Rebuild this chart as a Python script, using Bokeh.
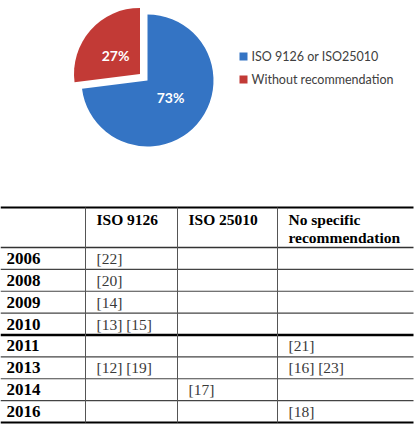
import math
from bokeh.plotting import figure
from bokeh.models import Range1d
from bokeh.core.properties import value
from bokeh.embed import file_html
from bokeh.resources import INLINE

# ---------------- data ----------------
pie_labels = ["ISO 9126 or ISO25010", "Without recommendation"]
pie_values = [73, 27]
pie_colors = ["#3474c4", "#c23a36"]

header_cols = ["ISO 9126", "ISO 25010", "No specific\nrecommendation"]
years = ["2006", "2008", "2009", "2010", "2011", "2013", "2014", "2016"]
iso9126 = ["[22]", "[20]", "[14]", "[13] [15]", "", "[12] [19]", "", ""]
iso25010 = ["", "", "", "", "", "", "[17]", ""]
no_rec = ["", "", "", "", "[21]", "[16] [23]", "", "[18]"]

W, H = 417, 431
p = figure(width=W, height=H, output_backend="svg", toolbar_location=None,
           x_range=Range1d(0, W), y_range=Range1d(0, H), min_border=0)
p.axis.visible = False
p.grid.visible = False
p.outline_line_color = None
p.background_fill_color = "white"


def Y(v):
    return H - v

# ---------------- pie ----------------
cx, cy, r = 147, 80, 66
total = sum(pie_values)
start = 90.0
angles = []
a = start
for v in reversed(pie_values):
    s = a
    e = a + 360.0 * v / total
    angles.append((s, e))
    a = e
angles = list(reversed(angles))  # angles[0] -> blue, angles[1] -> red
explode = [0, 10]
label_pos = [(170, 97), (115, 55)]
for i in range(len(pie_values)):
    s, e = angles[i]
    mid = math.radians((s + e) / 2)
    ox = explode[i] * math.cos(mid)
    oy = explode[i] * math.sin(mid)
    p.wedge(x=cx + ox, y=Y(cy) + oy, radius=r, start_angle=math.radians(s),
            end_angle=math.radians(e), fill_color=pie_colors[i], line_color=None)
    p.text(x=[label_pos[i][0]], y=[Y(label_pos[i][1])], text=[f"{pie_values[i]}%"],
           text_color="white", text_font=value("Lato"), text_font_style="bold",
           text_font_size="14px", text_align="center", text_baseline="middle")

# legend
leg_y = [56, 79]
for i, lab in enumerate(pie_labels):
    p.rect(x=[243], y=[Y(leg_y[i])], width=8, height=8,
           fill_color=pie_colors[i], line_color=None)
    p.text(x=[251], y=[Y(leg_y[i])], text=[lab], text_color="#404040",
           text_font=value("Lato"), text_font_size="12.5px",
           text_align="left", text_baseline="middle")

# ---------------- table ----------------
top, head_bot, bottom = 207, 247, 422
rh = (bottom - head_bot) / len(years)
col_x = [85, 177, 277]
right = 413

p.segment(x0=[0], y0=[Y(top)], x1=[right], y1=[Y(top)], line_color="black", line_width=2)
p.segment(x0=[0], y0=[Y(head_bot)], x1=[right], y1=[Y(head_bot)], line_color="#333333", line_width=1.5)
for i in range(1, len(years)):
    yy = head_bot + i * rh
    thick = years[i - 1] == "2010"
    p.segment(x0=[0], y0=[Y(yy)], x1=[right], y1=[Y(yy)],
              line_color="black" if thick else "#444444",
              line_width=2.5 if thick else 1.2)
p.segment(x0=[0], y0=[Y(bottom)], x1=[right], y1=[Y(bottom)], line_color="black", line_width=1.8)
for xx in col_x:
    p.segment(x0=[xx], y0=[Y(top)], x1=[xx], y1=[Y(bottom)], line_color="#555555", line_width=1)

serif = value("Liberation Serif")
for j, h in enumerate(header_cols):
    lines = h.split("\n")
    for k, ln in enumerate(lines):
        p.text(x=[col_x[j] + 11], y=[Y(219 + 18 * k)], text=[ln], text_font=serif,
               text_font_style="bold", text_font_size="15.5px", text_color="black",
               text_align="left", text_baseline="middle")

cols = [iso9126, iso25010, no_rec]
for i, yr in enumerate(years):
    yc = head_bot + (i + 0.5) * rh
    p.text(x=[6], y=[Y(yc)], text=[yr], text_font=serif, text_font_style="bold",
           text_font_size="17px", text_color="black", text_align="left",
           text_baseline="middle")
    for j, col in enumerate(cols):
        if col[i]:
            p.text(x=[col_x[j] + 11], y=[Y(yc)], text=[col[i]], text_font=serif,
                   text_font_size="15.5px", text_color="#3a3a3a", text_align="left",
                   text_baseline="middle")

open("out.html", "w").write(file_html(p, INLINE))
